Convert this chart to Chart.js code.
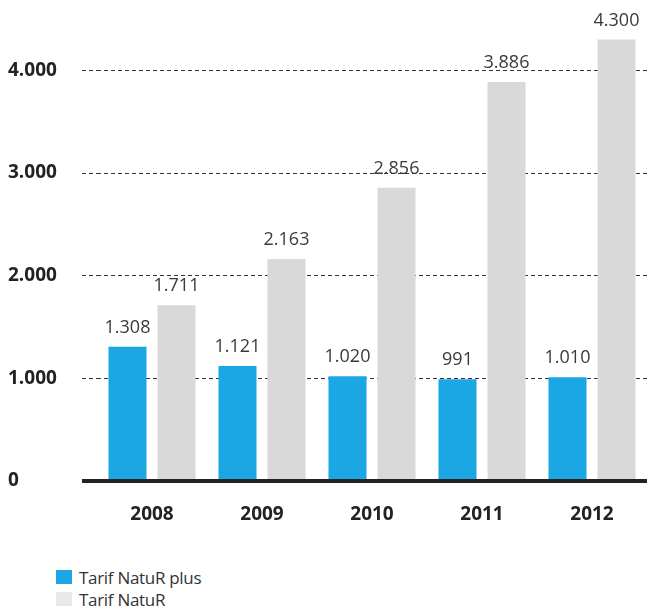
<!DOCTYPE html>
<html lang="de">
<head>
<meta charset="utf-8">
<title>Tarif NatuR / NatuR plus</title>
<script src="https://cdn.jsdelivr.net/npm/chart.js@4"></script>
<style>
  html, body { margin: 0; padding: 0; background: #fff; }
  body { width: 651px; height: 610px; position: relative; overflow: hidden; font-family: 'Open Sans', sans-serif; }
  #wrap { position: absolute; left: 0; top: 0; width: 651px; height: 545px; }
  .legend { position: absolute; left: 56px; top: 566px; }
  .legend div { display: flex; align-items: center; height: 22px; font-size: 17px; color: #333; letter-spacing: -0.3px; }
  .legend span { display: inline-block; width: 16px; height: 14px; margin-right: 7px; }
</style>
</head>
<body>
<div id="wrap"><canvas id="chart"></canvas></div>
<div class="legend">
  <div><span style="background:#1ba7e3"></span>Tarif NatuR plus</div>
  <div><span style="background:#e8e8e8"></span>Tarif NatuR</div>
</div>
<script>
// Jahre und Kundenzahlen je Tarif
const JAHRE = ['2008', '2009', '2010', '2011', '2012'];
const NATUR_PLUS = [1308, 1121, 1020, 991, 1010];
const NATUR = [1711, 2163, 2856, 3886, 4300];
const Y_TICKS = [0, 1000, 2000, 3000, 4000];

const BLAU = '#1ba7e3';
const GRAU = '#d9d9d9';
const FONT = "'Open Sans', sans-serif";

// 1308 -> "1.308"
function fmt(v) {
  return String(v).replace(/\B(?=(\d{3})+(?!\d))/g, '.');
}

// Wert über jeden Balken schreiben
const werteLabels = {
  id: 'werteLabels',
  afterDatasetsDraw(chart) {
    const { ctx } = chart;
    ctx.save();
    ctx.font = `18px ${FONT}`;
    ctx.fillStyle = '#3a3a3a';
    ctx.textAlign = 'center';
    ctx.textBaseline = 'alphabetic';
    chart.data.datasets.forEach((ds, di) => {
      chart.getDatasetMeta(di).data.forEach((bar, i) => {
        ctx.fillText(fmt(ds.data[i]), bar.x, bar.y - 14);
      });
    });
    ctx.restore();
  },
};

const istNull = (c) => c.tick && c.tick.value === 0;

new Chart(document.getElementById('chart'), {
  type: 'bar',
  data: {
    labels: JAHRE,
    datasets: [
      { label: 'Tarif NatuR plus', data: NATUR_PLUS, backgroundColor: BLAU },
      { label: 'Tarif NatuR', data: NATUR, backgroundColor: GRAU },
    ],
  },
  options: {
    responsive: true,
    maintainAspectRatio: false,
    animation: false,
    categoryPercentage: 0.891,
    barPercentage: 0.776,
    layout: { padding: { left: 8, top: 19, right: 4, bottom: 0 } },
    plugins: {
      legend: { display: false },
      tooltip: { enabled: false },
    },
    scales: {
      x: {
        grid: { display: false, drawTicks: false },
        border: { display: false },
        ticks: { color: '#222', font: { family: FONT, size: 19, weight: 'bold' }, padding: 22 },
        afterFit: (s) => { s.height = 64; },
      },
      y: {
        min: 0,
        max: 4500,
        afterBuildTicks: (s) => { s.ticks = Y_TICKS.map((v) => ({ value: v })); },
        ticks: {
          color: '#222',
          font: { family: FONT, size: 19, weight: 'bold' },
          crossAlign: 'far',
          callback: (v) => fmt(v),
        },
        grid: {
          color: (c) => (istNull(c) ? '#222' : '#333'),
          lineWidth: (c) => (istNull(c) ? 4 : 1),
          tickColor: (c) => (istNull(c) ? '#222' : '#333'),
          tickWidth: (c) => (istNull(c) ? 4 : 1),
          tickLength: 15,
          tickBorderDash: (c) => (istNull(c) ? [] : [4, 3]),
        },
        border: { display: false, dash: (c) => (istNull(c) ? [] : [4, 3]) },
        afterFit: (s) => { s.width = 89; },
      },
    },
  },
  plugins: [werteLabels],
});
</script>
</body>
</html>
